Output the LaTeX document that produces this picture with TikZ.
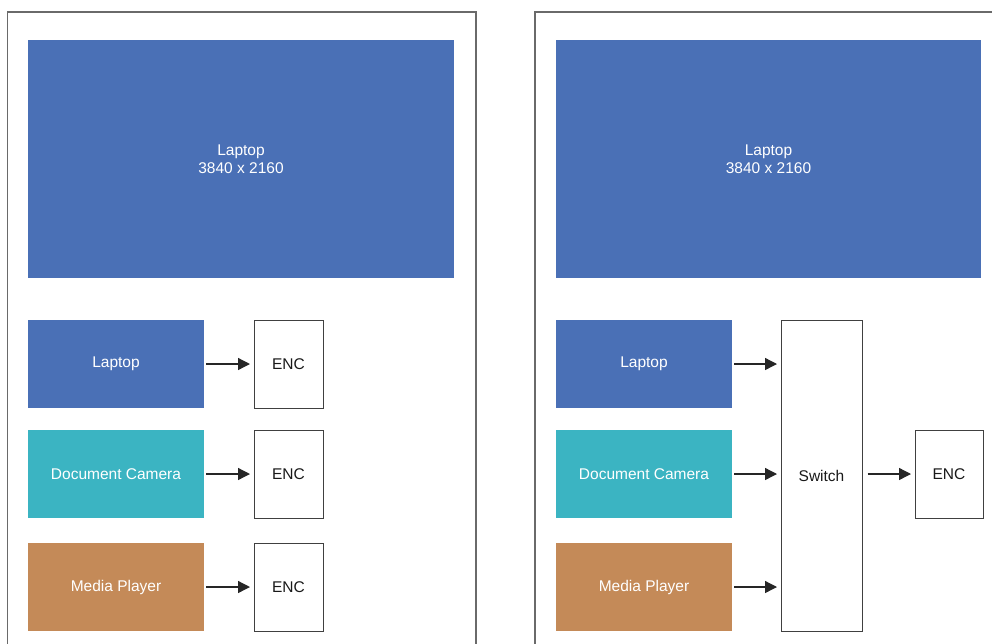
\documentclass[tikz,border=0pt]{standalone}
\usepackage{fontspec}
\setmainfont{Liberation Sans}
\usetikzlibrary{arrows.meta}
\definecolor{lapblue}{HTML}{4A70B6}
\definecolor{camteal}{HTML}{3BB4C2}
\definecolor{mediabrown}{HTML}{C48A58}
\definecolor{framegray}{HTML}{6A6A6A}
\begin{document}
\begin{tikzpicture}[x=1pt,y=-1pt,
  src/.style={rectangle,inner sep=0pt,text=white,font=\fontsize{15.5}{18}\selectfont,align=center},
  wbox/.style={rectangle,draw=black!75,line width=1pt,fill=white,inner sep=0pt,font=\fontsize{15.5}{18}\selectfont,text=black!90},
  conn/.style={line width=1.3pt,draw=black!85,-{Triangle[length=12pt,width=12pt]},shorten <=2pt,shorten >=3.5pt},
  frame/.style={draw=framegray,line width=1.4pt}
]
\useasboundingbox (0,0) rectangle (992,643);
% frames
\coordinate (fl1) at (7.5,650);
\coordinate (fl2) at (7.5,12);
\coordinate (fl3) at (476,12);
\coordinate (fl4) at (476,650);
\draw[frame] (fl1) -- (fl2) -- (fl3) -- (fl4);
\coordinate (fr1) at (535,650);
\coordinate (fr2) at (535,12);
\coordinate (fr3) at (1000,12);
\draw[frame] (fr1) -- (fr2) -- (fr3);

% left panel
\node[src,fill=lapblue,minimum width=426pt,minimum height=238pt] (bigL) at (241,159) {Laptop\\3840 x 2160};
\node[src,fill=lapblue,minimum width=176pt,minimum height=88pt] (lapL) at (116,364) {Laptop};
\node[src,fill=camteal,minimum width=176pt,minimum height=88pt] (camL) at (116,474) {Document Camera};
\node[src,fill=mediabrown,minimum width=176pt,minimum height=88pt] (medL) at (116,587) {Media Player};
\node[wbox,minimum width=69pt,minimum height=88pt] (enc1) at (288.5,364) {ENC};
\node[wbox,minimum width=69pt,minimum height=88pt] (enc2) at (288.5,474) {ENC};
\node[wbox,minimum width=69pt,minimum height=88pt] (enc3) at (288.5,587) {ENC};
\draw[conn] (lapL) -- (enc1);
\draw[conn] (camL) -- (enc2);
\draw[conn] (medL) -- (enc3);

% right panel
\node[src,fill=lapblue,minimum width=425pt,minimum height=238pt] (bigR) at (768.5,159) {Laptop\\3840 x 2160};
\node[src,fill=lapblue,minimum width=176pt,minimum height=88pt] (lapR) at (644,364) {Laptop};
\node[src,fill=camteal,minimum width=176pt,minimum height=88pt] (camR) at (644,474) {Document Camera};
\node[src,fill=mediabrown,minimum width=176pt,minimum height=88pt] (medR) at (644,587) {Media Player};
\node[wbox,minimum width=81pt,minimum height=311pt] (sw) at (821.5,475.5) {Switch};
\node[wbox,minimum width=68pt,minimum height=88pt] (encR) at (949,474) {ENC};
\draw[conn] (lapR.east) -- (lapR.east -| sw.west);
\draw[conn] (camR.east) -- (camR.east -| sw.west);
\draw[conn] (medR.east) -- (medR.east -| sw.west);
\draw[conn,shorten <=5pt] (sw.east |- encR.west) -- (encR.west);
\end{tikzpicture}
\end{document}
